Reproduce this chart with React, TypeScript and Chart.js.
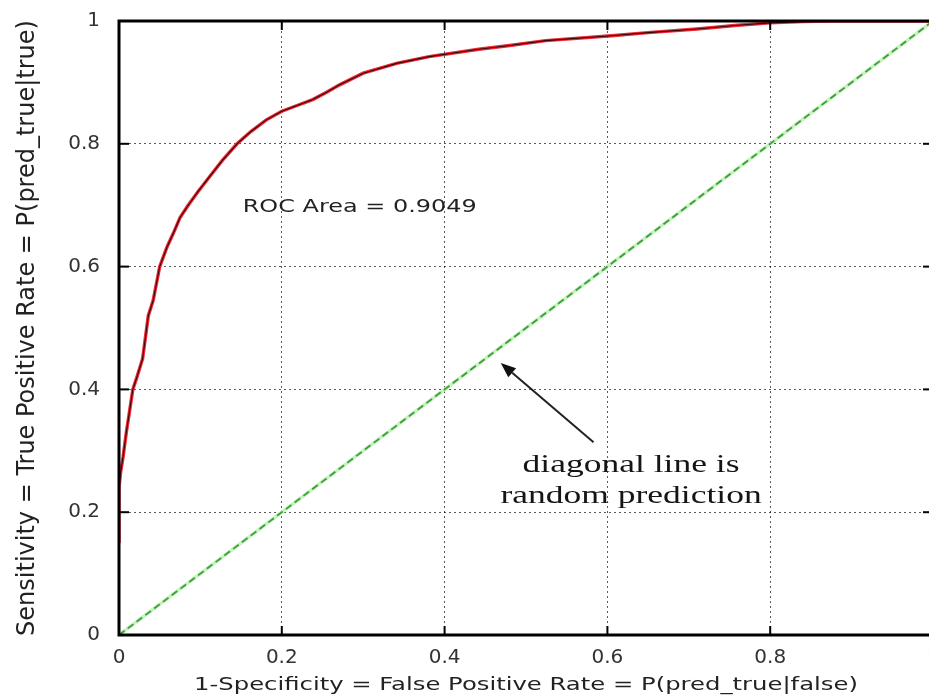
import React, { useEffect, useRef } from "react";
import { Chart, registerables } from "chart.js";

Chart.register(...registerables);

// ROC curve points (false positive rate, true positive rate)
const rocFpr = [
  0, 0, 0.002, 0.005, 0.009, 0.013, 0.017, 0.022, 0.029, 0.036, 0.042, 0.05, 0.059, 0.067,
  0.075, 0.085, 0.097, 0.111, 0.127, 0.145, 0.162, 0.181, 0.2, 0.222, 0.238, 0.255, 0.271,
  0.3, 0.341, 0.381, 0.442, 0.48, 0.524, 0.605, 0.65, 0.71, 0.76, 0.8, 0.84, 0.875, 0.93, 1.0,
];
const rocTpr = [
  0.15, 0.24, 0.265, 0.29, 0.33, 0.365, 0.4, 0.42, 0.45, 0.52, 0.545, 0.6, 0.632, 0.655,
  0.68, 0.7, 0.722, 0.746, 0.773, 0.8, 0.82, 0.839, 0.853, 0.864, 0.872, 0.884, 0.896,
  0.915, 0.931, 0.942, 0.954, 0.96, 0.968, 0.976, 0.981, 0.987, 0.993, 0.997, 0.999, 1.0,
  1.0, 1.0,
];
// random-guess diagonal
const diagX = [0, 1];
const diagY = [0, 1];

const xTicks = [0, 0.2, 0.4, 0.6, 0.8, 1];
const yTicks = [0, 0.2, 0.4, 0.6, 0.8, 1];

const xTitle = "1-Specificity = False Positive Rate = P(pred_true|false)";
const yTitle = "Sensitivity = True Positive Rate = P(pred_true|true)";
const areaLabel = "ROC Area = 0.9049";
const areaLabelAt = [0.152, 0.697];
const noteLines = ["diagonal line is", "random prediction"];
const noteAt = [0.629, 0.265];
const noteLineStep = 0.05;
const arrowFrom = [0.583, 0.314];
const arrowTo = [0.469, 0.443];

const fmt = (v: number) => String(Math.round(v * 10) / 10);

const overlay = {
  id: "overlay",
  afterDatasetsDraw(chart: any) {
    const { ctx, chartArea, scales } = chart;
    const { left, right, top, bottom } = chartArea;
    const x = scales.x;
    const y = scales.y;
    const line = (x1: number, y1: number, x2: number, y2: number) => {
      ctx.beginPath();
      ctx.moveTo(x1, y1);
      ctx.lineTo(x2, y2);
      ctx.stroke();
    };
    ctx.save();
    // inward tick marks
    ctx.strokeStyle = "#000";
    ctx.lineWidth = 2;
    for (const v of xTicks) {
      const px = x.getPixelForValue(v);
      line(px, bottom, px, bottom - 9);
      line(px, top, px, top + 9);
    }
    for (const v of yTicks) {
      const py = y.getPixelForValue(v);
      line(left, py, left + 10, py);
      line(right, py, right - 10, py);
    }
    // frame
    ctx.lineWidth = 3;
    ctx.strokeRect(left, top, right - left, bottom - top);

    // x axis title (horizontally stretched like the source)
    ctx.fillStyle = "#222";
    ctx.font = '18px "DejaVu Sans"';
    ctx.textBaseline = "middle";
    ctx.textAlign = "center";
    ctx.save();
    ctx.translate((left + right) / 2, bottom + 50);
    ctx.scale(1.35, 1);
    ctx.fillText(xTitle, 0, 0);
    ctx.restore();

    // ROC area label
    ctx.textAlign = "left";
    ctx.save();
    ctx.translate(x.getPixelForValue(areaLabelAt[0]), y.getPixelForValue(areaLabelAt[1]));
    ctx.scale(1.33, 1);
    ctx.fillText(areaLabel, 0, 0);
    ctx.restore();

    // note text
    ctx.font = '25px "Liberation Serif"';
    ctx.textBaseline = "alphabetic";
    ctx.textAlign = "center";
    ctx.fillStyle = "#151515";
    noteLines.forEach((t, i) => {
      ctx.save();
      ctx.translate(
        x.getPixelForValue(noteAt[0]),
        y.getPixelForValue(noteAt[1] - i * noteLineStep)
      );
      ctx.scale(1.42, 1);
      ctx.fillText(t, 0, 0);
      ctx.restore();
    });

    // arrow
    const ax1 = x.getPixelForValue(arrowFrom[0]);
    const ay1 = y.getPixelForValue(arrowFrom[1]);
    const ax2 = x.getPixelForValue(arrowTo[0]);
    const ay2 = y.getPixelForValue(arrowTo[1]);
    const ang = Math.atan2(ay2 - ay1, ax2 - ax1);
    const hl = 15;
    const hw = 6;
    ctx.strokeStyle = "#222";
    ctx.lineWidth = 2;
    const bx = ax2 - hl * Math.cos(ang);
    const by = ay2 - hl * Math.sin(ang);
    line(ax1, ay1, bx, by);
    ctx.fillStyle = "#111";
    ctx.beginPath();
    ctx.moveTo(ax2, ay2);
    ctx.lineTo(bx + hw * Math.sin(ang), by - hw * Math.cos(ang));
    ctx.lineTo(bx - hw * Math.sin(ang), by + hw * Math.cos(ang));
    ctx.closePath();
    ctx.fill();
    ctx.restore();
  },
};

const zeroPad = (s: any) => {
  s.paddingTop = 0;
  s.paddingBottom = 0;
  s.paddingLeft = 0;
  s.paddingRight = 0;
};

export default function App() {
  const ref = useRef<HTMLCanvasElement>(null);
  useEffect(() => {
    if (!ref.current) return;
    const mkRoc = () => rocFpr.map((v, i) => ({ x: v, y: rocTpr[i] }));
    const mkDiag = () => diagX.map((v, i) => ({ x: v, y: diagY[i] }));
    // Chart.js paints dataset 0 last (on top), so the core lines come first
    const chart = new Chart(ref.current, {
      type: "scatter",
      data: {
        datasets: [
          {
            data: mkRoc(),
            showLine: true,
            borderColor: "#3a0306",
            borderWidth: 1.1,
            pointRadius: 0,
          },
          {
            data: mkRoc(),
            showLine: true,
            borderColor: "#ec2a36",
            borderWidth: 3.4,
            pointRadius: 0,
          },
          {
            data: mkDiag(),
            showLine: true,
            borderColor: "#3c9f3c",
            borderWidth: 1.8,
            borderDash: [7, 4],
            pointRadius: 0,
          },
          {
            data: mkDiag(),
            showLine: true,
            borderColor: "#c6f3be",
            borderWidth: 3.5,
            pointRadius: 0,
          },
        ],
      },
      options: {
        responsive: false,
        animation: false,
        layout: { padding: { top: 21, right: 12, left: 0, bottom: 0 } },
        plugins: { legend: { display: false }, tooltip: { enabled: false } },
        scales: {
          x: {
            type: "linear",
            min: 0,
            max: 1,
            afterFit: (s: any) => {
              s.height = 64;
              zeroPad(s);
            },
            afterBuildTicks: (s: any) => {
              s.ticks = xTicks.map((v) => ({ value: v }));
            },
            ticks: {
              padding: 11,
              color: "#333",
              font: { family: "DejaVu Sans", size: 20 },
              maxRotation: 0,
              autoSkip: false,
              callback: (v: any) => fmt(Number(v)),
            },
            grid: { color: "rgba(0,0,0,0.65)", lineWidth: 1, drawTicks: false },
            border: { display: false, dash: [2, 3] },
            title: { display: false },
          },
          y: {
            type: "linear",
            min: 0,
            max: 1,
            afterFit: (s: any) => {
              s.width = 119;
              zeroPad(s);
            },
            afterBuildTicks: (s: any) => {
              s.ticks = yTicks.map((v) => ({ value: v }));
            },
            ticks: {
              padding: 19,
              color: "#333",
              font: { family: "DejaVu Sans", size: 20 },
              autoSkip: false,
              callback: (v: any) => fmt(Number(v)),
            },
            grid: { color: "rgba(0,0,0,0.65)", lineWidth: 1, drawTicks: false },
            border: { display: false, dash: [2, 3] },
            title: {
              display: true,
              text: yTitle,
              color: "#222",
              font: { family: "DejaVu Sans", size: 24 },
              padding: { top: 13, bottom: 4 },
            },
          },
        },
      },
      plugins: [overlay],
    });
    return () => chart.destroy();
  }, []);

  return (
    <div
      style={{
        position: "fixed",
        left: 0,
        top: 0,
        width: 929,
        height: 699,
        overflow: "hidden",
        background: "#fff",
      }}
    >
      <canvas ref={ref} width={945} height={699} style={{ display: "block" }} />
    </div>
  );
}
